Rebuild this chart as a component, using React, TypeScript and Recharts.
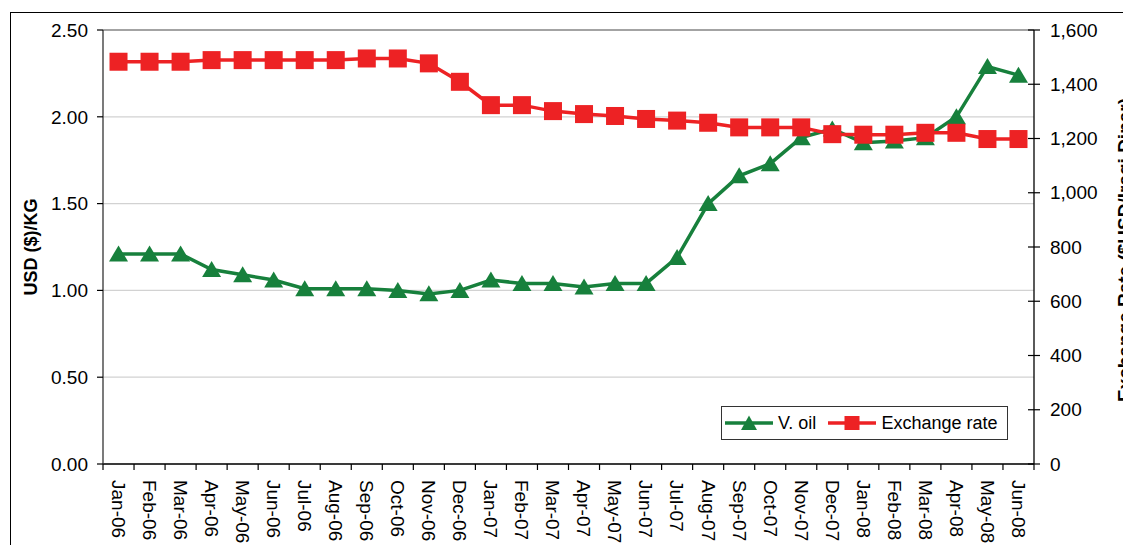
import React from 'react';
import { LineChart, Line, XAxis, YAxis, CartesianGrid, Legend, ReferenceLine } from 'recharts';

const months = [
  'Jan-06', 'Feb-06', 'Mar-06', 'Apr-06', 'May-06', 'Jun-06', 'Jul-06', 'Aug-06', 'Sep-06', 'Oct-06', 'Nov-06', 'Dec-06',
  'Jan-07', 'Feb-07', 'Mar-07', 'Apr-07', 'May-07', 'Jun-07', 'Jul-07', 'Aug-07', 'Sep-07', 'Oct-07', 'Nov-07', 'Dec-07',
  'Jan-08', 'Feb-08', 'Mar-08', 'Apr-08', 'May-08', 'Jun-08',
];

const vOil = [
  1.21, 1.21, 1.21, 1.12, 1.09, 1.06, 1.01, 1.01, 1.01, 1.0, 0.98, 1.0,
  1.06, 1.04, 1.04, 1.02, 1.04, 1.04, 1.19, 1.5, 1.66, 1.73, 1.88, 1.93,
  1.85, 1.86, 1.88, 2.0, 2.29, 2.24,
];

const exchangeRate = [
  1483, 1483, 1483, 1489, 1489, 1489, 1489, 1489, 1495, 1495, 1477, 1409,
  1323, 1323, 1301, 1290, 1283, 1272, 1266, 1258, 1241, 1241, 1241, 1216,
  1214, 1214, 1221, 1221, 1198, 1198,
];

const leftTicks = [0, 0.5, 1, 1.5, 2, 2.5];
const rightTicks = [0, 200, 400, 600, 800, 1000, 1200, 1400, 1600];

const seriesOrder = ['oil', 'rate'];
const seriesNames = { oil: 'V. oil', rate: 'Exchange rate' };
const leftTitle = 'USD ($)/KG';
const rightTitle = 'Exchange Rate ($USD/Iraqi Dinar)';

const data = months.map((m, i) => ({ month: m, oil: vOil[i], rate: exchangeRate[i] }));

const GREEN = '#17803c';
const RED = '#ed2224';
const FONT = '"Liberation Sans", Arial, Helvetica, sans-serif';
const TICK_FS = 19;

const triPath = (cx: number, cy: number) => `M${cx},${cy - 8.5} L${cx + 9.5},${cy + 7.5} L${cx - 9.5},${cy + 7.5} Z`;

const TriangleDot = (props: any) => {
  const { cx, cy, index } = props;
  if (cx == null || cy == null) return <g key={`t-${index}`} />;
  return <path key={`t-${index}`} d={triPath(cx, cy)} fill={GREEN} />;
};

const SquareDot = (props: any) => {
  const { cx, cy, index } = props;
  if (cx == null || cy == null) return <g key={`s-${index}`} />;
  return <rect key={`s-${index}`} x={cx - 9} y={cy - 9} width={18} height={18} fill={RED} />;
};

const X_TICK_SIZE = 6;
const X_TICK_MARGIN = 10;

const XTick = (props: any) => {
  const { x, y, payload, index, visibleTicksCount } = props;
  const half = payload && typeof payload.offset === 'number' && payload.offset > 0 ? payload.offset : 15.5;
  const axisY = y - X_TICK_SIZE - X_TICK_MARGIN;
  const isLast = index === (visibleTicksCount ?? months.length) - 1;
  return (
    <g>
      <line x1={x - half} x2={x - half} y1={axisY} y2={axisY + X_TICK_SIZE} stroke="#000" strokeWidth={1.2} />
      {isLast && (
        <line x1={x + half} x2={x + half} y1={axisY} y2={axisY + X_TICK_SIZE} stroke="#000" strokeWidth={1.2} />
      )}
      <text
        x={x}
        y={y}
        transform={`rotate(90, ${x}, ${y})`}
        dy="0.35em"
        textAnchor="start"
        fontSize={TICK_FS}
        fontFamily={FONT}
        fill="#000"
      >
        {payload.value}
      </text>
    </g>
  );
};

const R_TICK_SIZE = 6;
const R_TICK_MARGIN = 10;

const fmtThousands = (v: number) => v.toLocaleString('en-US');

const RightTick = (props: any) => {
  const { x, y, payload } = props;
  const axisX = x - R_TICK_SIZE - R_TICK_MARGIN;
  return (
    <g>
      <line x1={axisX - 6} x2={axisX + R_TICK_SIZE} y1={y} y2={y} stroke="#000" strokeWidth={1.2} />
      <text x={x} y={y} dy="0.35em" textAnchor="start" fontSize={TICK_FS} fontFamily={FONT} fill="#000">
        {fmtThousands(payload.value)}
      </text>
    </g>
  );
};

const LegendContent = (props: any) => {
  const { payload } = props;
  if (!payload) return null;
  const items = [...payload].sort(
    (a: any, b: any) => seriesOrder.indexOf(a.dataKey) - seriesOrder.indexOf(b.dataKey)
  );
  return (
    <div
      style={{
        border: '1.5px solid #333',
        background: '#fff',
        display: 'flex',
        alignItems: 'center',
        height: 34,
        boxSizing: 'border-box',
        padding: '0 10px 0 3px',
        fontFamily: FONT,
        fontSize: 18,
        color: '#000',
        whiteSpace: 'nowrap',
      }}
    >
      {items.map((entry: any, i: number) => {
        const isOil = entry.dataKey === 'oil';
        const col = isOil ? GREEN : RED;
        return (
          <div key={i} style={{ display: 'flex', alignItems: 'center', marginLeft: i === 0 ? 0 : 12 }}>
            <svg width={48} height={20} style={{ display: 'block' }}>
              <line x1={0} x2={48} y1={10} y2={10} stroke={col} strokeWidth={3.5} />
              {isOil ? (
                <path d={`M24,2.5 L32,17 L16,17 Z`} fill={col} />
              ) : (
                <rect x={16.5} y={3} width={15} height={14} fill={col} />
              )}
            </svg>
            <span style={{ marginLeft: 5 }}>{entry.value}</span>
          </div>
        );
      })}
    </div>
  );
};

const LeftTitle = (props: any) => {
  const vb = props.viewBox || { x: 0, y: 22, width: 95, height: 434 };
  const cx = vb.x + 23;
  const cy = vb.y + vb.height / 2;
  return (
    <text
      x={cx}
      y={cy}
      transform={`rotate(-90, ${cx}, ${cy})`}
      dy="0.35em"
      textAnchor="middle"
      fontSize={18}
      fontWeight="bold"
      fontFamily={FONT}
      fill="#000"
    >
      {leftTitle}
    </text>
  );
};

const RightTitle = (props: any) => {
  const vb = props.viewBox || { x: 1026, y: 22, width: 97, height: 434 };
  const cx = vb.x + 90;
  const cy = vb.y + vb.height / 2 + 3;
  return (
    <text
      x={cx}
      y={cy}
      transform={`rotate(-90, ${cx}, ${cy})`}
      dy="0.35em"
      textAnchor="middle"
      fontSize={19}
      fontWeight="bold"
      fontFamily={FONT}
      fill="#000"
    >
      {rightTitle}
    </text>
  );
};

export default function App() {
  return (
    <div style={{ position: 'relative', width: 1123, height: 537, overflow: 'hidden', fontFamily: FONT }}>
      <style>{`html,body{overflow:hidden}`}</style>
      <div
        style={{
          position: 'absolute',
          left: 1.5,
          top: 4,
          width: 1300,
          height: 700,
          border: '1.6px solid #000',
          boxSizing: 'border-box',
        }}
      />
      <LineChart width={1123} height={537} data={data} margin={{ top: 22, right: 0, bottom: 0, left: 0 }}>
        <CartesianGrid yAxisId="left" vertical={false} stroke="#d2d2d2" strokeWidth={1.2} />
        <XAxis
          dataKey="month"
          scale="band"
          type="category"
          interval={0}
          height={81}
          tickLine={false}
          tickSize={X_TICK_SIZE}
          tickMargin={X_TICK_MARGIN}
          axisLine={{ stroke: '#000', strokeWidth: 1.3 }}
          tick={<XTick />}
        />
        <YAxis
          yAxisId="left"
          orientation="left"
          width={95}
          domain={[0, 2.5]}
          ticks={leftTicks}
          interval={0}
          tickFormatter={(v: number) => v.toFixed(2)}
          tickSize={6}
          tickMargin={9}
          tickLine={{ stroke: '#000', strokeWidth: 1.2 }}
          axisLine={{ stroke: '#333', strokeWidth: 1.3 }}
          tick={{ fontSize: TICK_FS, fill: '#000', fontFamily: FONT }}
          label={(p: any) => <LeftTitle {...p} />}
        />
        <YAxis
          yAxisId="right"
          orientation="right"
          width={97}
          domain={[0, 1600]}
          ticks={rightTicks}
          interval={0}
          tickSize={R_TICK_SIZE}
          tickMargin={R_TICK_MARGIN}
          tickLine={false}
          axisLine={{ stroke: '#000', strokeWidth: 1.3 }}
          tick={<RightTick />}
          label={(p: any) => <RightTitle {...p} />}
        />
        <ReferenceLine yAxisId="left" y={2.5} stroke="#8c8c8c" strokeWidth={1.4} ifOverflow="extendDomain" />
        <Legend
          layout="vertical"
          align="center"
          verticalAlign="middle"
          wrapperStyle={{ position: 'absolute', left: 713, top: 398, width: 'auto', height: 'auto' }}
          content={<LegendContent />}
        />
        <Line
          yAxisId="left"
          dataKey="oil"
          name={seriesNames.oil}
          stroke={GREEN}
          strokeWidth={3.5}
          dot={TriangleDot}
          activeDot={false}
          isAnimationActive={false}
        />
        <Line
          yAxisId="right"
          dataKey="rate"
          name={seriesNames.rate}
          stroke={RED}
          strokeWidth={3.5}
          dot={SquareDot}
          activeDot={false}
          isAnimationActive={false}
        />
      </LineChart>
    </div>
  );
}
